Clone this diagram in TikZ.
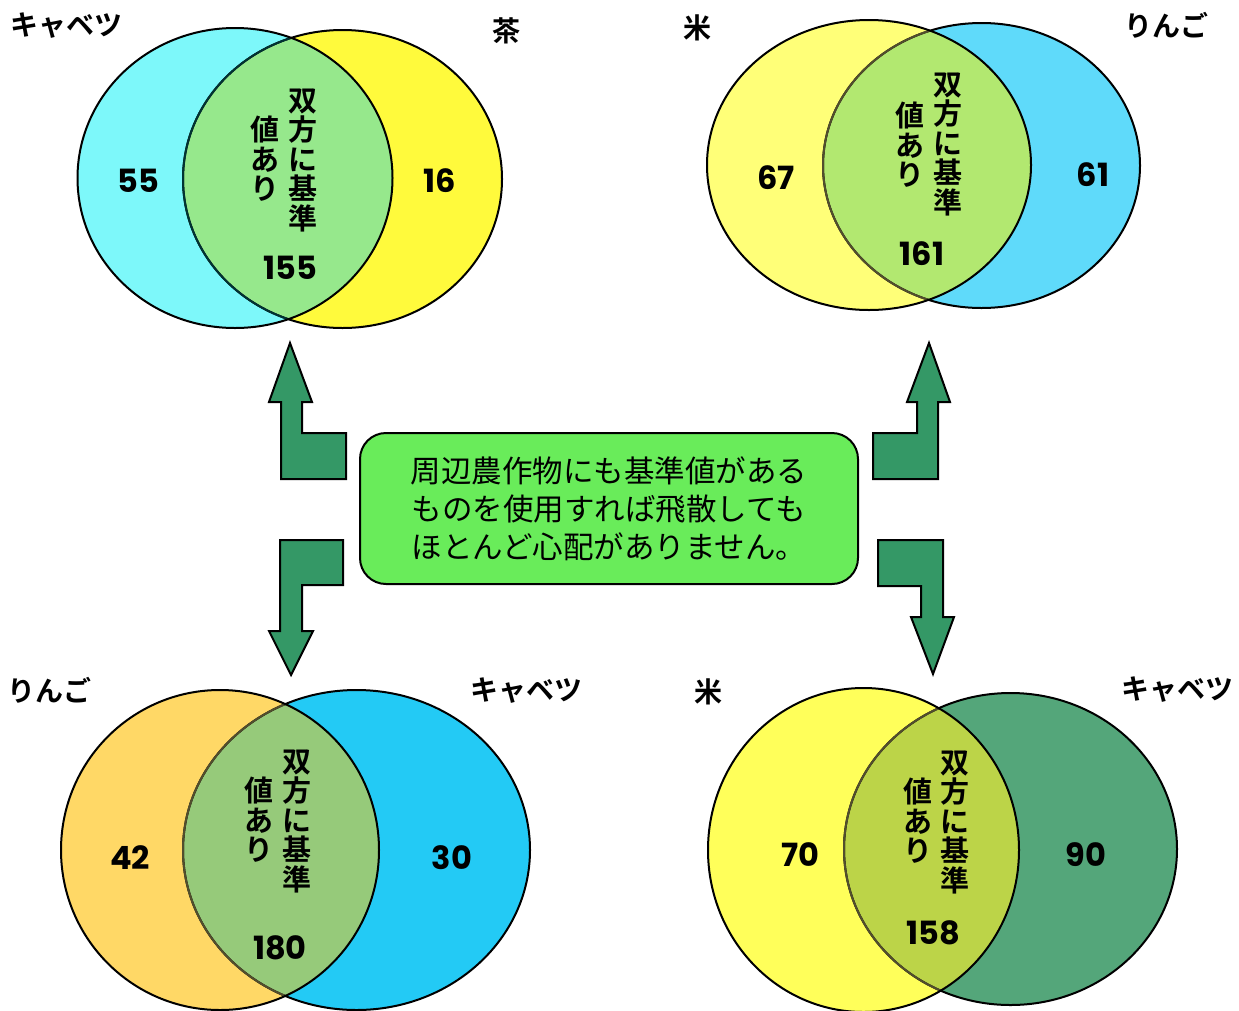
\documentclass[tikz,border=0pt]{standalone}
\usepackage{fontspec}
\setmainfont{Noto Sans CJK JP}[BoldFont={* Bold}]
\newfontfamily\numfont{Poppins}
\usetikzlibrary{positioning}
\definecolor{arrowgreen}{RGB}{52,152,102}
\definecolor{boxgreen}{RGB}{105,236,90}
% top-left
\definecolor{tlA}{RGB}{125,248,250}
\definecolor{tlB}{RGB}{255,250,60}
\definecolor{tlI}{RGB}{150,232,140}
% top-right
\definecolor{trA}{RGB}{255,255,120}
\definecolor{trB}{RGB}{95,218,250}
\definecolor{trI}{RGB}{178,232,112}
% bottom-left
\definecolor{blA}{RGB}{255,216,102}
\definecolor{blB}{RGB}{35,202,245}
\definecolor{blI}{RGB}{150,202,122}
% bottom-right
\definecolor{brA}{RGB}{255,255,90}
\definecolor{brB}{RGB}{84,166,122}
\definecolor{brI}{RGB}{188,212,72}
\tikzset{
  outline/.style={draw=black,line width=2pt},
  innerline/.style={draw=black!55!olive,line width=2pt},
  lbl/.style={inner sep=0pt,font=\bfseries\fontsize{28}{30}\selectfont},
  num/.style={inner sep=0pt,font=\numfont\bfseries\fontsize{32}{34}\selectfont},
  vtxt/.style={inner sep=0pt,align=center,font=\bfseries\fontsize{29}{29.5}\selectfont},
  bigarrow/.style={fill=arrowgreen,draw=black,line width=2pt,line join=miter},
  msgbox/.style={draw=black,line width=2pt,fill=boxgreen,rounded corners=26pt,
    minimum width=498pt,minimum height=151pt,align=center,inner sep=0pt,
    font=\fontsize{30.5}{38}\selectfont}
}
\begin{document}
\begin{tikzpicture}[x=1pt,y=-1pt]
\useasboundingbox (0,0) rectangle (1239,1010);
\fill[white] (0,0) rectangle (1239,1010);

% ===== Top-left Venn: キャベツ / 茶 (cyan on top)
\fill[tlB] (342.5,179) ellipse [x radius=159.5,y radius=149];
\fill[tlA] (235,178) ellipse [x radius=157.5,y radius=150];
\begin{scope}
  \clip (235,178) ellipse [x radius=157.5,y radius=150];
  \fill[tlI] (342.5,179) ellipse [x radius=159.5,y radius=149];
\end{scope}
\draw[outline] (342.5,179) ellipse [x radius=159.5,y radius=149];
\begin{scope}
  \clip (235,178) ellipse [x radius=157.5,y radius=150];
  \draw[draw=black!60!teal,line width=2pt] (342.5,179) ellipse [x radius=159.5,y radius=149];
\end{scope}
\draw[outline] (235,178) ellipse [x radius=157.5,y radius=150];

% ===== Top-right Venn: 米 / りんご (yellow on top)
\fill[trB] (981.5,165.5) ellipse [x radius=158.5,y radius=142.5];
\fill[trA] (869,165) ellipse [x radius=162,y radius=145];
\begin{scope}
  \clip (869,165) ellipse [x radius=162,y radius=145];
  \fill[trI] (981.5,165.5) ellipse [x radius=158.5,y radius=142.5];
\end{scope}
\draw[outline] (981.5,165.5) ellipse [x radius=158.5,y radius=142.5];
\begin{scope}
  \clip (869,165) ellipse [x radius=162,y radius=145];
  \draw[innerline] (981.5,165.5) ellipse [x radius=158.5,y radius=142.5];
\end{scope}
\draw[outline] (869,165) ellipse [x radius=162,y radius=145];

% ===== Bottom-left Venn: りんご / キャベツ (orange on top)
\fill[blB] (356.5,850) ellipse [x radius=173.5,y radius=160];
\fill[blA] (220,850) ellipse [x radius=159,y radius=160];
\begin{scope}
  \clip (220,850) ellipse [x radius=159,y radius=160];
  \fill[blI] (356.5,850) ellipse [x radius=173.5,y radius=160];
\end{scope}
\draw[outline] (356.5,850) ellipse [x radius=173.5,y radius=160];
\begin{scope}
  \clip (220,850) ellipse [x radius=159,y radius=160];
  \draw[innerline] (356.5,850) ellipse [x radius=173.5,y radius=160];
\end{scope}
\draw[outline] (220,850) ellipse [x radius=159,y radius=160];

% ===== Bottom-right Venn: 米 / キャベツ (yellow on top)
\fill[brB] (1010.5,849) ellipse [x radius=166.5,y radius=156];
\fill[brA] (863.5,850) ellipse [x radius=155.5,y radius=162];
\begin{scope}
  \clip (863.5,850) ellipse [x radius=155.5,y radius=162];
  \fill[brI] (1010.5,849) ellipse [x radius=166.5,y radius=156];
\end{scope}
\draw[outline] (1010.5,849) ellipse [x radius=166.5,y radius=156];
\begin{scope}
  \clip (863.5,850) ellipse [x radius=155.5,y radius=162];
  \draw[innerline] (1010.5,849) ellipse [x radius=166.5,y radius=156];
\end{scope}
\draw[outline] (863.5,850) ellipse [x radius=155.5,y radius=162];

% ===== Labels
\node[lbl] (tlLa) at (66,26) {キャベツ};
\node[lbl] (tlLb) at (506,31) {茶};
\node[lbl] (trLa) at (697,28) {米};
\node[lbl] (trLb) at (1166,25) {りんご};
\node[lbl] (blLa) at (49,690) {りんご};
\node[lbl] (blLb) at (526,691) {キャベツ};
\node[lbl] (brLa) at (708,692) {米};
\node[lbl] (brLb) at (1177,690) {キャベツ};

% ===== Numbers
\node[num] (tlNa) at (138,181) {55};
\node[num] (tlNb) at (440,181) {16};
\node[num] (tlNi) at (290,268) {155};
\node[num] (trNa) at (776,178) {67};
\node[num] (trNb) at (1093,175) {61};
\node[num] (trNi) at (922,254) {161};
\node[num] (blNa) at (130,858) {42};
\node[num] (blNb) at (452,858) {30};
\node[num] (blNi) at (280,948) {180};
\node[num] (brNa) at (800,855) {70};
\node[num] (brNb) at (1086,855) {90};
\node[num] (brNi) at (933,933) {158};

% ===== Vertical texts
\node[vtxt] (tlV1) at (303,160) {双\\方\\に\\基\\準};
\node[vtxt] (tlV2) at (265,159) {値\\あ\\り};
\node[vtxt] (trV1) at (948,144) {双\\方\\に\\基\\準};
\node[vtxt] (trV2) at (910,145) {値\\あ\\り};
\node[vtxt] (blV1) at (297,821) {双\\方\\に\\基\\準};
\node[vtxt] (blV2) at (259,820) {値\\あ\\り};
\node[vtxt] (brV1) at (955,822) {双\\方\\に\\基\\準};
\node[vtxt] (brV2) at (918,821) {値\\あ\\り};

% ===== Centre message
\node[msgbox] (msg) at (609,508.5) {周辺農作物にも基準値がある\\ものを使用すれば飛散しても\\ほとんど心配がありません。};

% ===== Bent arrows
\draw[bigarrow] (290,343) -- (312,402) -- (302,402) -- (302,433) -- (346,433)
  -- (346,479) -- (281,479) -- (281,402) -- (269,402) -- cycle;
\draw[bigarrow] (929,343) -- (950,402) -- (938,402) -- (938,479) -- (873,479)
  -- (873,433) -- (917,433) -- (917,402) -- (907,402) -- cycle;
\draw[bigarrow] (280,540) -- (343,540) -- (343,585) -- (302,585) -- (302,631)
  -- (313,631) -- (291,675) -- (269,631) -- (280,631) -- cycle;
\draw[bigarrow] (878,540) -- (943,540) -- (943,617) -- (954,617) -- (933,674)
  -- (911,617) -- (921,617) -- (921,586) -- (878,586) -- cycle;
\end{tikzpicture}
\end{document}
